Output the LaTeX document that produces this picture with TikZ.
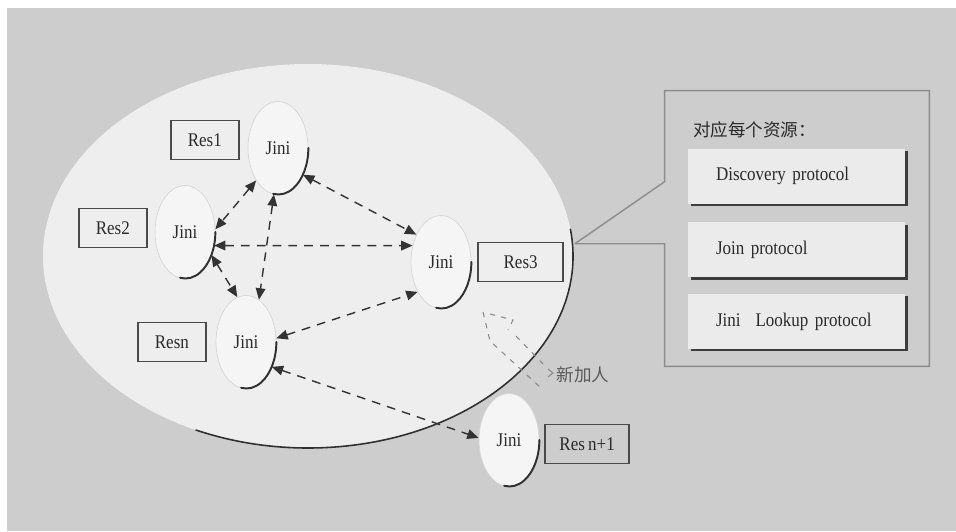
\documentclass[tikz,border=0pt]{standalone}
\usepackage{fontspec}
\setmainfont{Liberation Serif}[FakeStretch=0.88, WordSpace=0.75]
\newfontfamily\cjk{Noto Sans CJK SC}
\usetikzlibrary{positioning, calc, arrows.meta, shapes.geometric, shadows}
\definecolor{bggray}{HTML}{CDCDCD}
\definecolor{netfill}{HTML}{EEEEEE}
\definecolor{jinifill}{HTML}{F5F5F5}
\definecolor{jiniedge}{HTML}{D6D6D6}
\definecolor{boxedge}{HTML}{4A4A4A}
\definecolor{inkgray}{HTML}{2A2A2A}
\definecolor{arrowgray}{HTML}{333333}
\definecolor{rimgray}{HTML}{303030}
\definecolor{paneledge}{HTML}{8C8C8C}
\definecolor{protofill}{HTML}{EBEBEB}
\definecolor{shadowgray}{HTML}{3C3C3C}
\definecolor{ghostgray}{HTML}{8A8A8A}

\begin{document}
\begin{tikzpicture}[node distance=0.34cm, >={Triangle[length=6.5pt, width=5.5pt]},
    every node/.style={font=\fontsize{11pt}{13pt}\selectfont, text=inkgray},
    jini/.style={ellipse, draw=jiniedge, fill=jinifill, minimum width=1.2cm, minimum height=1.86cm, inner sep=0pt},
    resbox/.style={rectangle, draw=boxedge, line width=0.9pt, minimum width=1.36cm, minimum height=0.78cm, inner sep=2pt},
    protobox/.style={rectangle, fill=protofill, text width=3.22cm, minimum height=1.1cm, align=left, inner xsep=0.56cm, drop shadow={shadow xshift=0.05cm, shadow yshift=-0.05cm, fill=shadowgray, opacity=1}},
    link/.style={<->, dashed, dash pattern=on 5pt off 4pt, line width=0.8pt, draw=arrowgray},
    rim/.style={line width=1.1pt, draw=rimgray, line cap=round},
    ghost/.style={dashed, dash pattern=on 3pt off 3.5pt, line width=0.6pt, draw=ghostgray}]
    \useasboundingbox (0,0) rectangle (19.12,-10.62);
    \fill[white] (0,0) rectangle (19.12,-10.62);
    \fill[bggray] (0.14,-0.16) rectangle (19.12,-10.62);

    % Network
    \node[ellipse, fill=netfill, minimum width=10.6cm, minimum height=7.68cm, inner sep=0pt] (net) at (6.16,-5.12) {};
    \draw[rim, line width=0.9pt] ([shift={(8:5.3cm and 3.84cm)}]net.center) arc[start angle=8, end angle=-115, x radius=5.3cm, y radius=3.84cm];

    % Nodes
    \node[jini] (j1) at (5.56,-2.96) {Jini};
    \node[jini] (j2) at (3.70,-4.64) {Jini};
    \node[jini] (jn) at (4.92,-6.84) {Jini};
    \node[jini] (j3) at (8.82,-5.24) {Jini};
    \node[jini] (jn1) at (10.18,-8.80) {Jini};
    \foreach \n in {j1, j2, jn, j3, jn1}
        \draw[rim] (\n.east) arc[start angle=0, end angle=-100, x radius=0.6cm, y radius=0.93cm];

    \node[resbox, left=0.16cm of j1, yshift=0.16cm] (res1) {Res1};
    \node[resbox, left=0.14cm of j2, yshift=0.08cm] (res2) {Res2};
    \node[resbox, left=0.18cm of jn] (resn) {Resn};
    \node[resbox, right=0.12cm of j3, minimum width=1.7cm] (res3) {Res3};
    \node[resbox, right=0.10cm of jn1, yshift=-0.08cm, minimum width=1.68cm] (resn1) {Res n+1};

    % Dashed links
    \foreach \a/\b in {j1.236/j2.5, j1.265/jn.73, j2.319/jn.101, j2.335/j3.150, j1.313/j3.132, jn.7/j3.232, jn.316/jn1.176}
        \draw[link] (\a) -- (\b);

    % New member leaving
    \draw[ghost] (9.66,-6.24) -- (9.80,-6.82) -- (10.82,-7.76);
    \draw[ghost] (9.80,-6.28) -- (10.26,-6.40) -- (10.16,-6.60);
    \draw[ghost] (10.32,-6.72) -- (10.86,-7.28);
    \draw[ghost, solid] (10.96,-7.38) -- (11.06,-7.46) -- (10.96,-7.54);
    \node[font=\cjk\fontsize{10pt}{12pt}\selectfont, text=black!65, inner sep=0pt] (newtag) at (11.66,-7.50) {新加人};

    % Protocol panel
    \node[minimum width=5.28cm, minimum height=5.5cm, inner sep=0pt] (panel) at (15.94,-4.57) {};
    \coordinate (tip) at ([shift={(0.22cm,-0.04cm)}]res3.north east);
    \draw[paneledge, line width=0.8pt] (tip) -- (panel.west |- tip) -- (panel.south west) -- (panel.south east)
        -- (panel.north east) -- (panel.north west) -- ([yshift=-1.82cm]panel.north west) -- (tip);
    \node[anchor=west, font=\cjk\fontsize{10pt}{12pt}\selectfont, inner sep=0pt] (title) at ([xshift=0.56cm, yshift=-0.78cm]panel.north west) {对应每个资源：};

    \node[protobox] (disc) at (15.93,-3.52) {Discovery protocol};
    \node[protobox, below=0.36cm of disc] (join) {Join protocol};
    \node[protobox, below=0.32cm of join] (lookup) {Jini\hspace{0.3cm}Lookup protocol};
\end{tikzpicture}
\end{document}
